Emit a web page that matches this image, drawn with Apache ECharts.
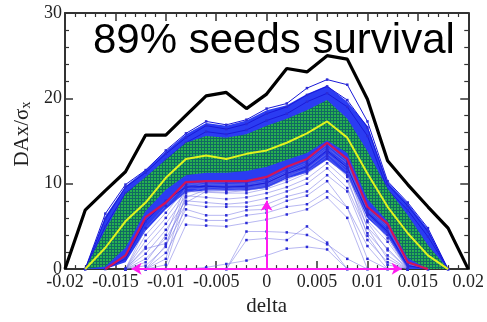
<!DOCTYPE html>
<html>
<head>
<meta charset="utf-8">
<script src="https://cdn.jsdelivr.net/npm/echarts@6/dist/echarts.min.js"></script>
<style>
  html, body { margin: 0; padding: 0; background: #fff; }
  #chart { width: 487px; height: 322px; }
</style>
</head>
<body>
<div id="chart"></div>
<script>
// Momentum deviation grid (delta) shared by every curve
const deltas = [-0.02, -0.018, -0.016, -0.014, -0.012, -0.01, -0.008, -0.006, -0.004, -0.002,
                0, 0.002, 0.004, 0.006, 0.008, 0.01, 0.012, 0.014, 0.016, 0.018, 0.02];
const xTickLabels = ['-0.02', '-0.015', '-0.01', '-0.005', '0', '0.005', '0.01', '0.015', '0.02'];
const yTickLabels = ['0', '10', '20', '30'];
const titleText = '89% seeds survival';

const _ = null;
// Envelope of all seeds (maximum DA)
const maxDA = [0, 6.9, 9.2, 11.4, 15.7, 15.7, 18.0, 20.3, 20.7, 18.8, 20.5, 23.5, 23.1, 25.0, 24.6, 19.9, 12.7, 9.9, 7.3, 4.8, 0];
// Average over surviving seeds
const meanDA = [_, 0, 2.5, 5.6, 7.8, 10.7, 12.9, 13.3, 12.9, 13.5, 13.9, 14.8, 15.9, 17.3, 15.4, 11.2, 7.3, 4.2, 1.6, 0, _];
// Lower reference curve
const lowDA = [_, _, 0, 1.6, 6.1, 7.8, 10.2, 10.3, 10.3, 10.3, 10.8, 12.0, 12.9, 14.8, 12.9, 7.3, 5.3, 0.8, 0, _, _];
// One-sigma band around the average
const sigmaUp = [_, 0, 4.6, 8.8, 10.8, 12.8, 14.8, 15.6, 15.4, 15.8, 16.8, 17.6, 18.6, 19.8, 17.6, 13.8, 9.4, 6.3, 2.8, 0, _];
const sigmaLo = [_, 0, 0.3, 2.5, 6.8, 9.3, 11.0, 11.3, 11.3, 11.5, 12.0, 12.8, 13.6, 15.1, 13.6, 8.2, 5.6, 1.3, 0, 0, _];
// Region crowded by seed curves
const crowdUp = [_, 0, 6.2, 9.7, 11.6, 13.8, 15.8, 17.1, 16.8, 17.4, 18.6, 19.2, 20.5, 21.5, 19.6, 16.8, 10.2, 7.7, 4.7, 0, _];
const crowdLo = [_, 0, 0, 0.8, 4.5, 7.0, 9.0, 9.2, 9.2, 9.2, 9.5, 10.6, 11.3, 12.8, 11.0, 6.0, 3.8, 0, 0, 0, _];

// Individual seeds inside the crowded region
const seedsDense = [
  [_, 0, 6.5, 9.9, 11.6, 13.9, 15.9, 17.3, 16.9, 17.5, 18.8, 19.4, 21.2, 22.2, 21.6, 17.3, 10.3, 7.8, 4.8, 0, _],
  [_, 0, 5.9, 9.6, 11.3, 13.5, 15.4, 16.8, 16.4, 17.0, 18.2, 19.0, 20.4, 21.4, 19.8, 16.6, 9.9, 7.4, 4.4, 0, _],
  [_, 0, 5.0, 8.9, 10.6, 12.8, 14.8, 16.1, 15.8, 16.3, 17.4, 18.2, 19.6, 20.6, 19.0, 15.6, 9.3, 6.9, 3.8, 0, _],
  [_, _, 0, 1.2, 5.6, 8.0, 9.6, 9.7, 9.6, 9.7, 10.1, 11.2, 12.0, 13.9, 11.9, 6.6, 4.4, 0.4, 0, _, _]
];
// Seeds with smaller dynamic aperture
const seedsSparse = [
  [_, _, _, 0, 4.8, 7.4, 10.0, 9.9, 9.8, 9.9, 10.2, 11.3, 12.3, 14.1, 12.4, 6.9, 4.8, 0.6, 0, _, _],
  [_, _, _, 0, 4.0, 6.6, 9.5, 9.4, 9.2, 9.4, 9.8, 10.8, 11.8, 13.5, 11.8, 6.3, 4.0, 0, _, _, _],
  [_, _, _, 0, 3.3, 6.0, 9.1, 9.0, 8.9, 8.9, 9.4, 10.2, 11.2, 12.9, 11.0, 5.7, 3.2, 0, _, _, _],
  [_, _, _, 0, 2.6, 5.3, 8.6, 8.4, 8.2, 8.4, 8.9, 9.6, 10.6, 12.4, 10.3, 4.9, 2.4, 0, _, _, _],
  [_, _, _, 0, 1.8, 4.6, 8.0, 7.8, 7.6, 7.8, 8.3, 9.1, 10.0, 11.8, 9.5, 4.2, 1.6, 0, _, _, _],
  [_, _, _, 0, 1.2, 3.6, 7.6, 7.3, 7.3, 7.3, 7.6, 8.5, 9.1, 11.0, 9.1, 3.4, 0.8, 0, _, _, _],
  [_, _, _, _, 0, 2.8, 7.0, 6.3, 6.3, 6.9, 7.0, 8.0, 8.6, 10.3, 7.2, 2.7, 0, _, _, _, _],
  [_, _, _, _, 0, 1.9, 6.3, 5.7, 5.7, 6.3, 6.6, 7.3, 7.6, 9.1, 7.2, 1.2, 0, _, _, _, _],
  [_, _, _, _, _, 0, 5.2, 5.1, 5.0, 5.4, 5.8, 6.4, 7.0, 8.4, 6.0, 0, _, _, _, _, _],
  [_, _, _, _, _, _, _, _, 0, 4.4, 4.4, 4.3, 4.0, 2.9, 1.2, 0, _, _, _, _, _],
  [_, _, _, _, _, _, _, _, 0, 3.4, 3.6, 3.4, 5.0, 3.1, 0, _, _, _, _, _, _],
  [_, _, _, _, _, _, 0, 0.2, 0.6, 1.0, 1.6, 2.4, 2.6, 2.3, 0, _, _, _, _, _, _],
  [_, _, _, 0, 0.8, 4.0, 9.8, 10.2, 10.2, 10.3, 10.7, 11.9, 12.8, 14.6, 12.6, 7.1, 5.0, 0.6, 0, _, _],
  [_, _, _, 0, 0.4, 2.6, 9.4, 10.0, 9.9, 10.0, 10.4, 11.5, 12.5, 14.3, 12.3, 6.4, 3.6, 0, _, _, _],
  [_, _, _, _, 0, 1.2, 8.9, 9.6, 9.5, 9.7, 10.0, 11.1, 12.0, 13.9, 12.0, 5.5, 2.2, 0, _, _, _],
  [_, _, _, 0, 2.4, 3.0, 8.4, 9.3, 9.4, 9.5, 9.9, 11.0, 11.7, 13.6, 11.4, 4.8, 1.2, 0, _, _, _],
  [_, _, _, _, 0, 0.5, 7.8, 9.1, 9.0, 9.2, 9.6, 10.5, 11.4, 13.2, 10.8, 3.9, 0.5, 0, _, _, _]
];
// Arrows marking the momentum acceptance and the aperture at delta = 0
const arrowSpan = [-0.0134, 0.0134];
const arrowUp = [0, 8.0];

const pairs = arr => deltas.map((d, i) => [d, arr[i]]).filter(p => p[1] != null);

// Hatched green fill for the one-sigma band
const hatch = document.createElement('canvas');
hatch.width = 3; hatch.height = 3;
const hc = hatch.getContext('2d');
hc.fillStyle = '#27b24f'; hc.fillRect(0, 0, 3, 3);
hc.fillStyle = '#116a62'; hc.fillRect(0, 0, 3, 1); hc.fillRect(0, 0, 1, 3);

function band(upper, lower, fill, z) {
  return {
    type: 'custom', coordinateSystem: 'cartesian2d', silent: true, z: z,
    data: [[0, 0]],
    renderItem: function (params, api) {
      const pts = [];
      for (let i = 0; i < deltas.length; i++) if (upper[i] != null) pts.push(api.coord([deltas[i], upper[i]]));
      for (let i = deltas.length - 1; i >= 0; i--) if (lower[i] != null) pts.push(api.coord([deltas[i], lower[i]]));
      return { type: 'polygon', shape: { points: pts }, style: { fill: fill } };
    }
  };
}

function seedLine(arr, color, width, z) {
  return {
    type: 'line', data: pairs(arr), z: z, silent: true,
    symbol: 'rect', symbolSize: 2.5, showSymbol: true,
    itemStyle: { color: '#2b2bd6' },
    lineStyle: { color: color, width: width }
  };
}

const axisCommon = {
  axisLine: { show: true, onZero: false, lineStyle: { color: '#333', width: 2 } },
  axisTick: { show: true, inside: true, length: 8, lineStyle: { color: '#333', width: 1.5 } },
  minorTick: { show: true, splitNumber: 5, length: 4, lineStyle: { color: '#333', width: 1.2 } },
  splitLine: { show: false },
  minorSplitLine: { show: false }
};
const labelFont = { fontFamily: '"Liberation Serif", serif', fontSize: 18, color: '#222' };

const series = [];
series.push(band(crowdUp, crowdLo, '#2b3cf2', 1));
seedsSparse.forEach(s => series.push(seedLine(s, 'rgba(115,115,228,0.65)', 0.8, 2)));
seedsDense.forEach(s => series.push(seedLine(s, '#1a1ad8', 1, 2)));
series.push(band(sigmaUp, sigmaLo, { image: hatch, repeat: 'repeat' }, 3));
series.push({ type: 'line', data: pairs(meanDA), z: 4, silent: true, showSymbol: false,
  lineStyle: { color: '#e2f21e', width: 2 } });
series.push({ type: 'line', data: pairs(lowDA), z: 4, silent: true, showSymbol: false,
  lineStyle: { color: '#d0145a', width: 2.2 } });
series.push({ type: 'line', data: pairs(maxDA), z: 5, silent: true, showSymbol: false,
  lineStyle: { color: '#000', width: 3.2 } });
series.push({
  type: 'line', data: [], z: 6, silent: true,
  markLine: {
    silent: true, animation: false,
    symbol: ['arrow', 'arrow'], symbolSize: [9, 10],
    label: { show: false },
    lineStyle: { color: '#ff1cf0', width: 2, type: 'solid' },
    data: [
      [{ coord: [arrowSpan[0], 0.05] }, { coord: [arrowSpan[1], 0.05] }],
      [{ coord: [arrowUp[0], 0.05], symbol: 'none' }, { coord: [arrowUp[0], arrowUp[1]], symbol: 'arrow' }]
    ]
  }
});

const chart = echarts.init(document.getElementById('chart'), null, { renderer: 'canvas' });
chart.setOption({
  animation: false,
  backgroundColor: '#fff',
  grid: { left: 65, right: 17, top: 13, bottom: 45 },
  xAxis: [
    Object.assign({
      type: 'value', min: -0.02, max: 0.02, interval: 0.005, position: 'bottom',
      axisLabel: Object.assign({ margin: 4,
        formatter: v => xTickLabels[Math.round((v + 0.02) / 0.005)] }, labelFont),
      name: 'delta', nameLocation: 'middle', nameGap: 16,
      nameTextStyle: { fontFamily: '"Liberation Serif", serif', fontSize: 21, color: '#222' }
    }, axisCommon),
    Object.assign({
      type: 'value', min: -0.02, max: 0.02, interval: 0.005, position: 'top',
      axisLabel: { show: false }
    }, axisCommon)
  ],
  yAxis: [
    Object.assign({
      type: 'value', min: 0, max: 30, interval: 10, position: 'left',
      axisLabel: Object.assign({ margin: 3,
        formatter: v => yTickLabels[Math.round(v / 10)] }, labelFont),
      name: '{a|DAx/σ}{b|x}', nameLocation: 'middle', nameGap: 22,
      nameTextStyle: {
        padding: [0, 0, 0, 14],
        rich: {
          a: { fontFamily: '"Liberation Serif", serif', fontSize: 21, color: '#222', lineHeight: 22 },
          b: { fontFamily: '"Liberation Serif", serif', fontSize: 14, color: '#222', verticalAlign: 'bottom', lineHeight: 14 }
        }
      }
    }, axisCommon),
    Object.assign({
      type: 'value', min: 0, max: 30, interval: 10, position: 'right',
      axisLabel: { show: false }
    }, axisCommon)
  ],
  graphic: [{
    type: 'text', left: 93, top: 20, z: 100, silent: true,
    style: { text: titleText, font: '42px "Liberation Sans"', fill: '#000' }
  }],
  series: series
});
</script>
</body>
</html>
